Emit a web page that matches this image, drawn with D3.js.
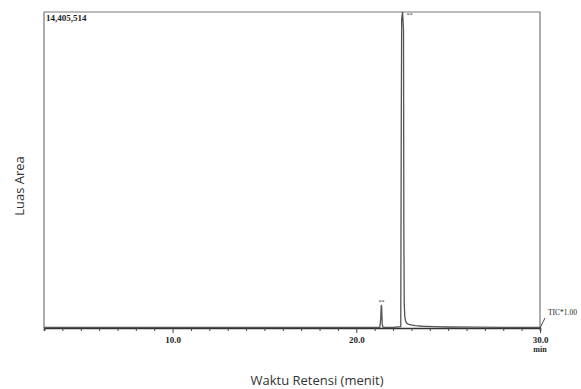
<!DOCTYPE html>
<html>
<head>
<meta charset="utf-8">
<script src="https://cdn.jsdelivr.net/npm/d3@7"></script>
<style>
  body { margin: 0; background: #fff; }
  svg { display: block; }
</style>
</head>
<body>
<script>
const width = 581
const height = 389

const margin = { top: 12, right: 41, bottom: 61, left: 44 }
const plotW = width - margin.left - margin.right
const plotH = height - margin.top - margin.bottom

// chromatogram (time in min, TIC counts)
const times = [3.0, 8.0, 14.0, 19.0, 21.28, 21.33, 21.36, 21.38, 21.41, 21.46,
  22.0, 22.42, 22.45, 22.47, 22.52, 22.57, 22.59, 22.61, 22.64, 22.69,
  22.76, 22.9, 23.2, 23.6, 24.2, 25.0, 26.5, 28.0, 30.0]
const counts = [22000, 22000, 24000, 22000, 24000, 420000, 1050000, 960000, 180000, 26000,
  26000, 60000, 9800000, 14100000, 14405514, 13600000, 4200000, 1100000, 520000, 300000,
  210000, 150000, 105000, 80000, 60000, 45000, 36000, 32000, 30000]

const maxCount = 14405514
const xDomain = [3.0, 30.0]
const labeledTicks = [10, 20, 30]
const peakMarks = [{ t: 21.37, c: 1050000 }, { t: 22.52, c: 14405514 }]

const x = d3.scaleLinear().domain(xDomain).range([0, plotW])
const y = d3.scaleLinear().domain([0, maxCount]).range([plotH, 0])

const svg = d3.select('body').append('svg')
  .attr('width', width)
  .attr('height', height)

svg.append('defs').append('clipPath').attr('id', 'plotclip')
  .append('rect').attr('x', 0).attr('y', 0).attr('width', plotW).attr('height', plotH)

const g = svg.append('g')
  .attr('transform', 'translate(' + [margin.left, margin.top] + ')')

// frame
g.append('path')
  .attr('d', 'M0 ' + plotH + 'V0H' + plotW + 'V' + plotH)
  .attr('fill', 'none')
  .attr('stroke', '#777')
  .attr('stroke-width', 1.2)

// axis
const axis = d3.axisBottom(x)
  .tickValues(d3.range(3, 31))
  .tickSize(3)
  .tickFormat(d => labeledTicks.includes(d) ? d3.format('.1f')(d) : '')

const ax = g.append('g')
  .attr('transform', 'translate(0,' + plotH + ')')
  .call(axis)
ax.select('.domain').attr('stroke', '#333').attr('stroke-width', 1.6)
ax.selectAll('.tick line').attr('stroke', '#444')
  .attr('y2', d => labeledTicks.includes(d) ? 5 : 3)
ax.selectAll('.tick text')
  .attr('y', 9)
  .attr('font-family', 'Liberation Serif')
  .attr('font-weight', 'bold')
  .attr('font-size', 9)
  .attr('fill', '#222')
ax.append('text')
  .attr('x', x(30))
  .attr('y', 24)
  .attr('text-anchor', 'middle')
  .attr('font-family', 'Liberation Serif')
  .attr('font-weight', 'bold')
  .attr('font-size', 8)
  .attr('fill', '#222')
  .text('min')

// trace
const line = d3.line()
  .x((d, i) => x(times[i]))
  .y(d => y(d))

g.append('path')
  .attr('clip-path', 'url(#plotclip)')
  .attr('d', line(counts))
  .attr('fill', 'none')
  .attr('stroke', '#555')
  .attr('stroke-width', 1.3)

// peak marks
g.selectAll('.mark').data(peakMarks).enter().append('text')
  .attr('class', 'mark')
  .attr('x', (d, i) => x(d.t) + (i === 1 ? 7 : 0))
  .attr('y', (d, i) => i === 1 ? y(d.c) + 5 : y(d.c) - 1)
  .attr('text-anchor', 'middle')
  .attr('font-family', 'Liberation Serif')
  .attr('font-size', 6)
  .attr('fill', '#333')
  .text('**')

// max label
g.append('text')
  .attr('x', 2)
  .attr('y', 9)
  .attr('font-family', 'Liberation Serif')
  .attr('font-weight', 'bold')
  .attr('font-size', 9)
  .attr('fill', '#222')
  .text(d3.format(',')(maxCount))

// TIC label with leader
g.append('path')
  .attr('d', 'M' + plotW + ' ' + plotH + 'l5 -10')
  .attr('stroke', '#444')
  .attr('fill', 'none')
g.append('text')
  .attr('x', plotW + 8)
  .attr('y', plotH - 13)
  .attr('font-family', 'Liberation Serif')
  .attr('font-size', 7.5)
  .attr('fill', '#222')
  .text('TIC*1.00')

// titles
svg.append('text')
  .attr('transform', 'translate(24,186)rotate(-90)')
  .attr('text-anchor', 'middle')
  .attr('font-family', 'Open Sans')
  .attr('font-size', 13)
  .attr('fill', '#333')
  .text('Luas Area')

svg.append('text')
  .attr('x', 317)
  .attr('y', 385)
  .attr('text-anchor', 'middle')
  .attr('font-family', 'Open Sans')
  .attr('font-size', 13)
  .attr('fill', '#333')
  .text('Waktu Retensi (menit)')
</script>
</body>
</html>
